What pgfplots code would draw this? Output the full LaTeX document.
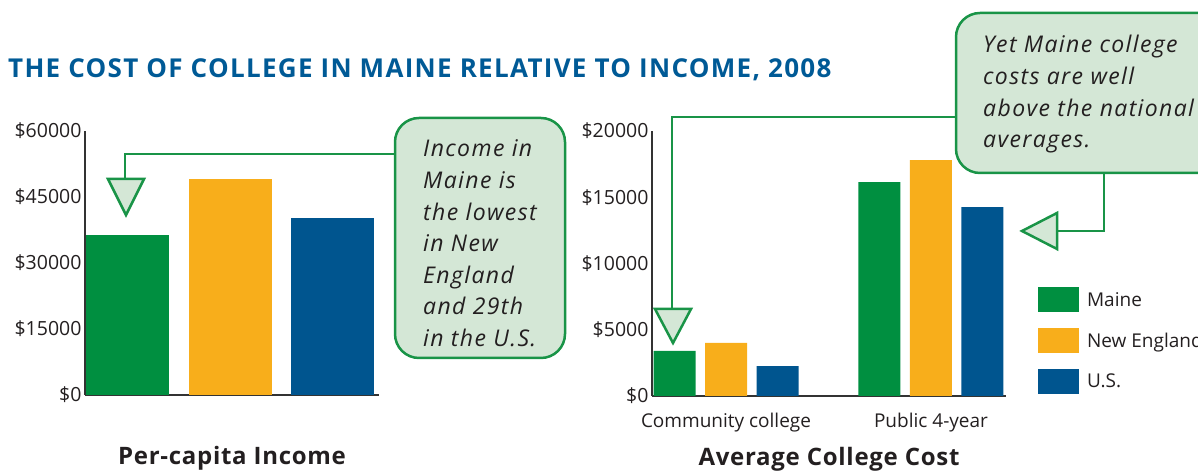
\documentclass[border=0pt]{standalone}
\usepackage{pgfplots}
\pgfplotsset{compat=1.18}
\usepackage{fontspec}
\setmainfont{Open Sans}

\definecolor{mgreen}{HTML}{008F40}
\definecolor{morange}{HTML}{F8AE1B}
\definecolor{mblue}{HTML}{00558F}
\definecolor{titleblue}{HTML}{005A96}
\definecolor{callfill}{HTML}{D4E7D6}
\definecolor{callline}{HTML}{199447}
\definecolor{axisgray}{HTML}{333333}
\definecolor{textdark}{HTML}{231F20}

\newcommand\tickfont{\fontsize{19.5bp}{23bp}\selectfont}
\newcommand\callfont{\fontsize{23bp}{27bp}\selectfont\itshape\addfontfeature{LetterSpace=6}}

\pgfplotsset{
  mybars/.style={
    scale only axis,
    anchor=south west,
    axis lines=left,
    axis line style={-, line width=2bp, draw=axisgray},
    major tick length=0pt,
    scaled y ticks=false,
    ymin=0,
    ybar,
    tick label style={font=\tickfont, text=textdark},
    xlabel style={at={(axis description cs:0.5,0)}, anchor=base, yshift=-70bp,
      font=\fontsize{24bp}{28bp}\selectfont\bfseries\addfontfeature{LetterSpace=3},
      text=textdark},
  },
}

\begin{document}
\begin{tikzpicture}[x=1bp,y=1bp]
\useasboundingbox (0,0) rectangle (1198,472);
\begin{scope}
\clip (0,0) rectangle (1198,472);

% title
\node[anchor=base west, inner sep=0pt, text=titleblue,
  font=\fontsize{26bp}{30bp}\selectfont\bfseries\addfontfeature{LetterSpace=5}] at (8,394)
  {THE COST OF COLLEGE IN MAINE RELATIVE TO INCOME, 2008};

% per-capita income
\begin{axis}[mybars,
  at={(85bp,77bp)}, width=294bp, height=264bp,
  xmin=-0.415, xmax=2.454, ymax=60000,
  xtick=\empty,
  ytick={0,15000,30000,45000,60000},
  yticklabels={\$0,\$15000,\$30000,\$45000,\$60000},
  bar width=83bp,
  xlabel={Per-capita Income}]
\addplot[fill=mgreen, draw=none, bar shift=0pt] coordinates {(0,36400)};
\addplot[fill=morange, draw=none, bar shift=0pt] coordinates {(1,49100)};
\addplot[fill=mblue, draw=none, bar shift=0pt] coordinates {(2,40200)};
\end{axis}

% college cost
\begin{axis}[mybars,
  at={(652bp,76bp)}, width=354bp, height=265bp,
  xmin=-0.361, xmax=1.366, ymax=20000,
  xtick={0,1},
  xticklabels={Community college,Public 4-year},
  xticklabel style={anchor=base, yshift=-32bp, font=\fontsize{19bp}{23bp}\selectfont},
  ytick={0,5000,10000,15000,20000},
  yticklabels={\$0,\$5000,\$10000,\$15000,\$20000},
  bar width=42bp,
  xlabel={Average College Cost},
  legend style={draw=none, fill=none, inner sep=0pt,
    at={(1.090,0.411)}, anchor=north west,
    row sep=16bp, column sep=6bp,
    font=\fontsize{19bp}{23bp}\selectfont, text=textdark,
    cells={anchor=west, inner sep=1bp}}]
\addplot[fill=mgreen, draw=none, bar shift=-51.5bp,
  legend image code/.code={\fill[mgreen] (0bp,-12.5bp) rectangle (41bp,12.5bp);}]
  coordinates {(0,3400) (1,16150)};
\addlegendentry{Maine}
\addplot[fill=morange, draw=none, bar shift=0bp,
  legend image code/.code={\fill[morange] (0bp,-12.5bp) rectangle (41bp,12.5bp);}]
  coordinates {(0,4000) (1,17800)};
\addlegendentry{New England}
\addplot[fill=mblue, draw=none, bar shift=51.5bp,
  legend image code/.code={\fill[mblue] (0bp,-12.5bp) rectangle (41bp,12.5bp);}]
  coordinates {(0,2260) (1,14260)};
\addlegendentry{U.S.}
\end{axis}

% callout: income
\draw[callline, line width=2.5bp] (395,318) -- (125,318) -- (125,293);
\filldraw[fill=callfill, draw=callline, line width=2.5bp]
  (108,293) -- (144,293) -- (126,257) -- cycle;
\filldraw[fill=callfill, draw=callline, line width=2.5bp, rounded corners=24bp]
  (395,114) rectangle (565,354);
\begin{scope}[every node/.style={anchor=base west, inner sep=0pt, text=textdark, font=\callfont}]
\node at (423,315) {Income in};
\node at (423,283.4) {Maine is};
\node at (423,251.8) {the lowest};
\node at (423,220.2) {in New};
\node at (423,188.6) {England};
\node at (423,157) {and 29th};
\node at (423,125.4) {in the U.S.};
\end{scope}

% callout: college cost
\draw[callline, line width=2.5bp] (956,355) -- (672,355) -- (672,163);
\filldraw[fill=callfill, draw=callline, line width=2.5bp]
  (655,163) -- (691,163) -- (673,129) -- cycle;
\draw[callline, line width=2.5bp] (1104,299) -- (1104,241) -- (1057,241);
\filldraw[fill=callfill, draw=callline, line width=2.5bp]
  (1057,259) -- (1057,223) -- (1022,241) -- cycle;
\filldraw[fill=callfill, draw=callline, line width=2.5bp, rounded corners=24bp]
  (956,299) rectangle (1230,459);
\begin{scope}[every node/.style={anchor=base west, inner sep=0pt, text=textdark, font=\callfont}]
\node at (983,419) {Yet Maine college};
\node at (983,387.4) {costs are well};
\node at (983,355.8) {above the national};
\node at (983,324.2) {averages.};
\end{scope}

\end{scope}
\end{tikzpicture}
\end{document}
